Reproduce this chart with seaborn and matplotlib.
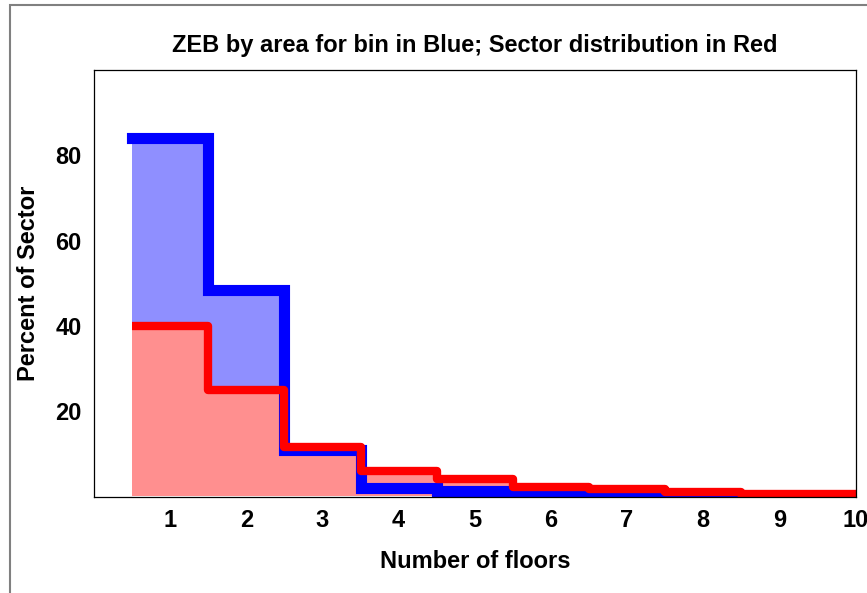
import numpy as np
import pandas as pd
import matplotlib
matplotlib.use("Agg")
import matplotlib.pyplot as plt
import matplotlib.patches as mpatches
import seaborn as sns

floors = [1, 2, 3, 4, 5, 6, 7, 8, 9, 10]
zeb_pct = [84.0, 48.5, 10.8, 2.1, 1.3, 0.4, 0.2, 0.2, 0.2, 0.2]
sector_pct = [40.0, 25.0, 11.5, 6.0, 4.0, 2.3, 1.8, 1.0, 0.6, 0.7]
y_ticks = [20, 40, 60, 80]

df = pd.DataFrame({"floors": floors, "zeb": zeb_pct, "sector": sector_pct})

sns.set_style("white", {"text.color": "black", "axes.labelcolor": "black",
                        "xtick.color": "black", "ytick.color": "black"})
plt.rcParams["font.family"] = ["Liberation Sans", "DejaVu Sans"]

fig = plt.figure(figsize=(8.67, 5.93), dpi=100)
ax = fig.add_axes([94 / 867, 1 - 496.5 / 593, (855.5 - 94) / 867, (496.5 - 70) / 593])

# fills first, then the step outlines on top
sns.histplot(data=df, x="floors", weights="zeb", discrete=True, element="step",
             fill=True, facecolor="#8f8fff", linewidth=0, alpha=1, ax=ax)
sns.histplot(data=df, x="floors", weights="sector", discrete=True, element="step",
             fill=True, facecolor="#ff8f8f", linewidth=0, alpha=1, ax=ax)
sns.histplot(data=df, x="floors", weights="zeb", discrete=True, element="step",
             fill=False, color="#0000ff", linewidth=8, ax=ax,
             solid_capstyle="projecting", solid_joinstyle="miter")
sns.histplot(data=df, x="floors", weights="sector", discrete=True, element="step",
             fill=False, color="#ff0000", linewidth=6, ax=ax,
             solid_capstyle="butt", solid_joinstyle="round")

ax.set_xlim(0, 10)
ax.set_ylim(0, 100)
ax.set_xticks(floors)
ax.set_yticks(y_ticks)
ax.tick_params(direction="in", length=7, width=1, colors="black",
               labelcolor="black", labelsize=17, pad=9)
for lab in ax.get_xticklabels() + ax.get_yticklabels():
    lab.set_fontweight("bold")

for side in ["left", "right", "top", "bottom"]:
    ax.spines[side].set_visible(True)
    ax.spines[side].set_color("black")
    ax.spines[side].set_linewidth(0.9)

ax.set_xlabel("Number of floors", fontsize=17, fontweight="bold",
              color="black", labelpad=13)
ax.set_ylabel("Percent of Sector", fontsize=17, fontweight="bold",
              color="black", labelpad=11)
ax.set_title("ZEB by area for bin in Blue; Sector distribution in Red",
             fontsize=17, fontweight="bold", color="black", pad=13)

# outer frame that runs off the right and bottom edges
fig.patches.append(mpatches.Rectangle((10 / 867, -0.2), 1.2, 1.2 - 5 / 593,
                                      transform=fig.transFigure, fill=False,
                                      edgecolor="#808080", linewidth=1.5))

fig.savefig("out.png", dpi=100)
